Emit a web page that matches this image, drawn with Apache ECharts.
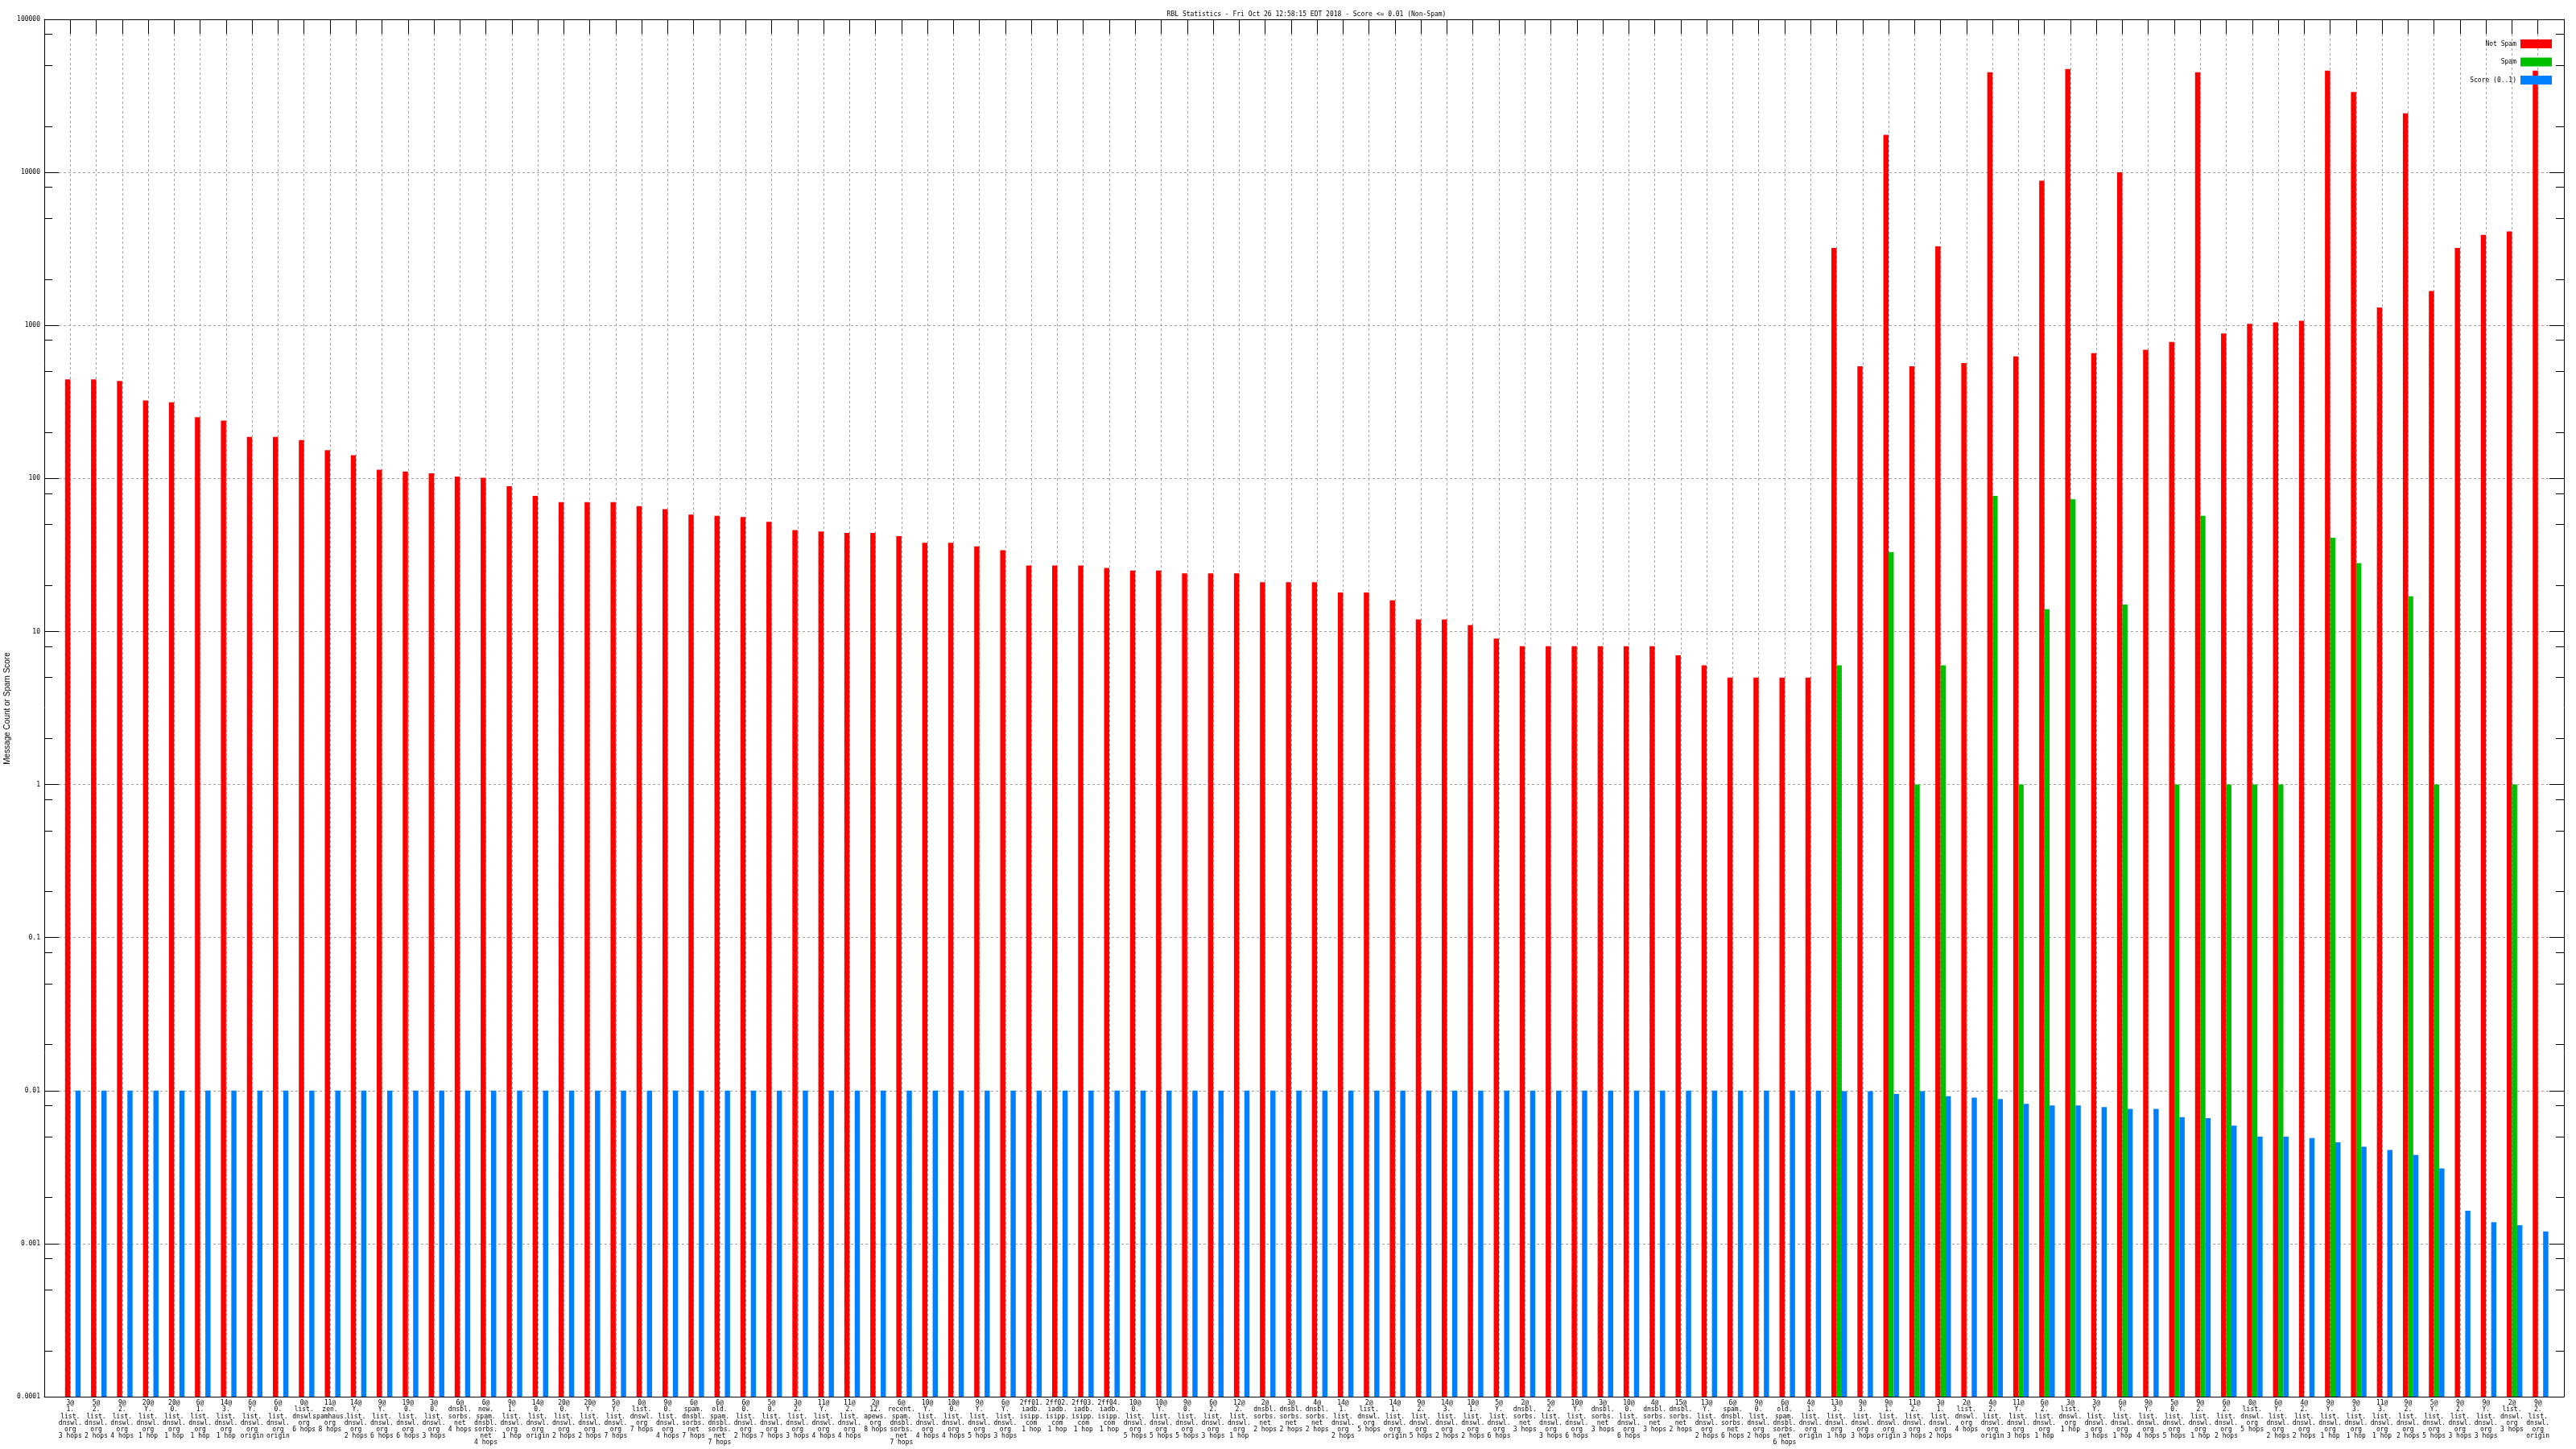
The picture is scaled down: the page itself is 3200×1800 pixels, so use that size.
<!DOCTYPE html>
<html><head><meta charset="utf-8">
<script src="https://cdn.jsdelivr.net/npm/echarts@6/dist/echarts.min.js"></script>
<style>html,body{margin:0;padding:0;background:#fff}#c{width:3200px;height:1800px}</style>
</head><body><div id="c"></div>
<script>
const categories = [
"3@\n1.\nlist.\ndnswl.\norg\n3 hops","5@\n2.\nlist.\ndnswl.\norg\n2 hops","9@\n2.\nlist.\ndnswl.\norg\n4 hops",
"20@\nY.\nlist.\ndnswl.\norg\n1 hop","20@\n0.\nlist.\ndnswl.\norg\n1 hop","6@\n1.\nlist.\ndnswl.\norg\n1 hop",
"14@\n3.\nlist.\ndnswl.\norg\n1 hop","6@\nY.\nlist.\ndnswl.\norg\norigin","6@\n0.\nlist.\ndnswl.\norg\norigin",
"0@\nlist.\ndnswl.\norg\n6 hops","11@\nzen.\nspamhaus.\norg\n8 hops","14@\nY.\nlist.\ndnswl.\norg\n2 hops",
"9@\nY.\nlist.\ndnswl.\norg\n6 hops","19@\n0.\nlist.\ndnswl.\norg\n6 hops","3@\n0.\nlist.\ndnswl.\norg\n3 hops",
"6@\ndnsbl.\nsorbs.\nnet\n4 hops","6@\nnew.\nspam.\ndnsbl.\nsorbs.\nnet\n4 hops","9@\n1.\nlist.\ndnswl.\norg\n1 hop",
"14@\n0.\nlist.\ndnswl.\norg\norigin","20@\n0.\nlist.\ndnswl.\norg\n2 hops","20@\nY.\nlist.\ndnswl.\norg\n2 hops",
"5@\nY.\nlist.\ndnswl.\norg\n7 hops","0@\nlist.\ndnswl.\norg\n7 hops","9@\n0.\nlist.\ndnswl.\norg\n4 hops",
"6@\nspam.\ndnsbl.\nsorbs.\nnet\n7 hops","6@\nold.\nspam.\ndnsbl.\nsorbs.\nnet\n7 hops","6@\n0.\nlist.\ndnswl.\norg\n2 hops",
"5@\n0.\nlist.\ndnswl.\norg\n7 hops","3@\n2.\nlist.\ndnswl.\norg\n3 hops","11@\nY.\nlist.\ndnswl.\norg\n4 hops",
"11@\n2.\nlist.\ndnswl.\norg\n4 hops","2@\n12.\napews.\norg\n8 hops","6@\nrecent.\nspam.\ndnsbl.\nsorbs.\nnet\n7 hops",
"10@\nY.\nlist.\ndnswl.\norg\n4 hops","10@\n0.\nlist.\ndnswl.\norg\n4 hops","9@\nY.\nlist.\ndnswl.\norg\n5 hops",
"6@\nY.\nlist.\ndnswl.\norg\n3 hops","2ff01.\niadb.\nisipp.\ncom\n1 hop","2ff02.\niadb.\nisipp.\ncom\n1 hop",
"2ff03.\niadb.\nisipp.\ncom\n1 hop","2ff04.\niadb.\nisipp.\ncom\n1 hop","10@\n0.\nlist.\ndnswl.\norg\n5 hops",
"10@\nY.\nlist.\ndnswl.\norg\n5 hops","9@\n0.\nlist.\ndnswl.\norg\n5 hops","6@\n2.\nlist.\ndnswl.\norg\n3 hops",
"12@\n2.\nlist.\ndnswl.\norg\n1 hop","2@\ndnsbl.\nsorbs.\nnet\n2 hops","3@\ndnsbl.\nsorbs.\nnet\n2 hops",
"4@\ndnsbl.\nsorbs.\nnet\n2 hops","14@\n1.\nlist.\ndnswl.\norg\n2 hops","2@\nlist.\ndnswl.\norg\n5 hops",
"14@\n1.\nlist.\ndnswl.\norg\norigin","9@\n2.\nlist.\ndnswl.\norg\n5 hops","14@\n3.\nlist.\ndnswl.\norg\n2 hops",
"10@\n1.\nlist.\ndnswl.\norg\n2 hops","5@\nY.\nlist.\ndnswl.\norg\n6 hops","2@\ndnsbl.\nsorbs.\nnet\n3 hops",
"5@\n2.\nlist.\ndnswl.\norg\n3 hops","10@\nY.\nlist.\ndnswl.\norg\n6 hops","3@\ndnsbl.\nsorbs.\nnet\n3 hops",
"10@\n0.\nlist.\ndnswl.\norg\n6 hops","4@\ndnsbl.\nsorbs.\nnet\n3 hops","15@\ndnsbl.\nsorbs.\nnet\n2 hops",
"13@\nY.\nlist.\ndnswl.\norg\n2 hops","6@\nspam.\ndnsbl.\nsorbs.\nnet\n6 hops","9@\n0.\nlist.\ndnswl.\norg\n2 hops",
"6@\nold.\nspam.\ndnsbl.\nsorbs.\nnet\n6 hops","4@\n1.\nlist.\ndnswl.\norg\norigin","13@\n3.\nlist.\ndnswl.\norg\n1 hop",
"9@\n3.\nlist.\ndnswl.\norg\n3 hops","9@\n1.\nlist.\ndnswl.\norg\norigin","11@\n2.\nlist.\ndnswl.\norg\n3 hops",
"3@\n1.\nlist.\ndnswl.\norg\n2 hops","2@\nlist.\ndnswl.\norg\n4 hops","4@\n2.\nlist.\ndnswl.\norg\norigin",
"11@\nY.\nlist.\ndnswl.\norg\n3 hops","6@\n2.\nlist.\ndnswl.\norg\n1 hop","3@\nlist.\ndnswl.\norg\n1 hop",
"3@\nY.\nlist.\ndnswl.\norg\n3 hops","6@\nY.\nlist.\ndnswl.\norg\n1 hop","9@\nY.\nlist.\ndnswl.\norg\n4 hops",
"5@\n0.\nlist.\ndnswl.\norg\n5 hops","9@\n2.\nlist.\ndnswl.\norg\n1 hop","6@\n2.\nlist.\ndnswl.\norg\n2 hops",
"0@\nlist.\ndnswl.\norg\n5 hops","6@\nY.\nlist.\ndnswl.\norg\n2 hops","4@\n2.\nlist.\ndnswl.\norg\n2 hops",
"9@\nY.\nlist.\ndnswl.\norg\n1 hop","9@\n3.\nlist.\ndnswl.\norg\n1 hop","11@\n3.\nlist.\ndnswl.\norg\n1 hop",
"9@\n2.\nlist.\ndnswl.\norg\n2 hops","5@\nY.\nlist.\ndnswl.\norg\n5 hops","9@\n2.\nlist.\ndnswl.\norg\n3 hops",
"9@\nY.\nlist.\ndnswl.\norg\n3 hops","2@\nlist.\ndnswl.\norg\n3 hops","9@\n2.\nlist.\ndnswl.\norg\norigin"
];

const notSpam = [
444,444,434,323,314,251,239,187,187,178,153,142,114,111,108,103,101,89,77,70,
70,70,66,63,58,57,56,52,46,45,44,44,42,38,38,36,34,27,27,27,
26,25,25,24,24,24,21,21,21,18,18,16,12,12,11,9,8,8,8,8,
8,8,7,6,5,5,5,5,3206,541,17600,541,3290,567,45100,627,8830,47400,658,10000,
692,781,45100,885,1023,1047,1072,46200,33500,1309,24300,1676,3206,3910,4110,46200
];

const spam = [
null,null,null,null,null,null,null,null,null,null,null,null,null,null,null,null,null,null,null,null,
null,null,null,null,null,null,null,null,null,null,null,null,null,null,null,null,null,null,null,null,
null,null,null,null,null,null,null,null,null,null,null,null,null,null,null,null,null,null,null,null,
null,null,null,null,null,null,null,null,6,null,33,1,6,null,77,1,14,73,null,15,
null,1,57,1,1,1,null,41,28,null,17,1,null,null,1,null
];

const score = [
0.01,0.01,0.01,0.01,0.01,0.01,0.01,0.01,0.01,0.01,0.01,0.01,0.01,0.01,0.01,0.01,0.01,0.01,0.01,0.01,
0.01,0.01,0.01,0.01,0.01,0.01,0.01,0.01,0.01,0.01,0.01,0.01,0.01,0.01,0.01,0.01,0.01,0.01,0.01,0.01,
0.01,0.01,0.01,0.01,0.01,0.01,0.01,0.01,0.01,0.01,0.01,0.01,0.01,0.01,0.01,0.01,0.01,0.01,0.01,0.01,
0.01,0.01,0.01,0.01,0.01,0.01,0.01,0.01,0.0099,0.0099,0.0095,0.0099,0.0092,0.0090,0.0088,0.0082,0.0080,0.0080,0.0078,0.0076,
0.0076,0.0067,0.0066,0.0059,0.0050,0.0050,0.0049,0.0046,0.0043,0.0041,0.0038,0.0031,0.00164,0.00138,0.00132,0.0012
];

const yTickLabels = ['0.0001','0.001','0.01','0.1','1','10','100','1000','10000','100000'];
const seriesNames = ['Not Spam','Spam','Score (0..1)'];
const colors = ['#ff0000','#00c000','#0080ff'];

const FONT = 'DejaVu Sans Mono';
const Y_MIN = 0.0001, Y_MAX = 100000;
const BOX = 0.2;               // width of one box, in category units
const offsets = [-BOX, 0, BOX]; // slot of each series inside a cluster

const minorVals = [];
for (let e = -4; e <= 4; e++) { [2,5,8].forEach(m => minorVals.push(m * Math.pow(10, e))); }
const majorVals = [];
for (let e = -4; e <= 5; e++) majorVals.push(Math.pow(10, e));

function yLabel(v) {
  const e = Math.round(Math.log10(v));
  return yTickLabels[e + 4] || '';
}

const gridLine = { show: true, lineStyle: { color: '#a0a0a0', width: 1, type: [3, 3] } };

function makeRender(k) {
  return function (params, api) {
    const v = api.value(1);
    if (!(v > 0)) return null;
    const x = api.value(0) + offsets[k];
    const top = api.coord([x, v]);
    const base = api.coord([x, Y_MIN]);
    const l = api.coord([x - BOX / 2, v])[0];
    const r = api.coord([x + BOX / 2, v])[0];
    return { type: 'rect', shape: { x: l, y: top[1], width: r - l, height: base[1] - top[1] },
      style: { fill: colors[k] } };
  };
}

const chart = echarts.init(document.getElementById('c'), null, { renderer: 'canvas' });
chart.setOption({
  animation: false,
  backgroundColor: '#ffffff',
  title: {
    text: 'RBL Statistics - Fri Oct 26 12:58:15 EDT 2018 - Score <= 0.01 (Non-Spam)',
    left: 1618, top: 9, textAlign: 'center',
    textStyle: { fontFamily: FONT, fontSize: 8, fontWeight: 'normal', color: '#000' }
  },
  legend: {
    data: seriesNames, orient: 'vertical', right: 25, top: 44, align: 'right',
    itemWidth: 39, itemHeight: 11, itemGap: 11.5, icon: 'rect', selectedMode: false,
    textStyle: { fontFamily: FONT, fontSize: 8, color: '#000' }
  },
  graphic: [{
    type: 'text', x: 9, y: 880, rotation: Math.PI / 2,
    style: { text: 'Message Count or Spam Score', align: 'center', verticalAlign: 'middle',
      font: '10px "Liberation Sans"', fill: '#000' }
  }],
  grid: { left: 55, right: 15, top: 24, bottom: 65, containLabel: false },
  xAxis: [
    { type: 'value', min: -1.1, max: 95.9, show: false },
    { type: 'value', position: 'bottom', min: -1, max: 96, interval: 1,
      axisLine: { show: true, onZero: false, lineStyle: { color: '#000', width: 1 } },
      axisTick: { show: false },
      splitLine: gridLine,
      axisLabel: { show: true, interval: 0, margin: 4, fontFamily: FONT, fontSize: 8, lineHeight: 8.2,
        color: '#000', verticalAlign: 'top', showMinLabel: true, showMaxLabel: true,
        formatter: v => { const i = Math.round(v); return (i >= 0 && i < categories.length) ? categories[i] : ''; } } },
    { type: 'value', position: 'top', min: -1, max: 96, interval: 1,
      axisLine: { show: true, onZero: false, lineStyle: { color: '#000', width: 1 } },
      axisTick: { show: true, inside: true, length: 18, lineStyle: { color: '#000', width: 1 } },
      axisLabel: { show: false }, splitLine: { show: false } }
  ],
  yAxis: [
    { type: 'log', logBase: 10, min: Y_MIN, max: Y_MAX, position: 'left',
      axisLine: { show: true, onZero: false, lineStyle: { color: '#000', width: 1 } },
      axisTick: { show: true, inside: true, length: 18, customValues: majorVals, lineStyle: { color: '#000', width: 1 } },
      axisLabel: { show: true, margin: 5, fontFamily: FONT, fontSize: 8, color: '#000', customValues: majorVals, formatter: yLabel },
      splitLine: gridLine, splitNumber: 9 },
    { type: 'log', logBase: 10, min: Y_MIN, max: Y_MAX, position: 'left',
      axisLine: { show: false, onZero: false },
      axisTick: { show: true, inside: true, length: 10, customValues: minorVals, lineStyle: { color: '#000', width: 1 } },
      axisLabel: { show: false }, splitLine: { show: false } },
    { type: 'log', logBase: 10, min: Y_MIN, max: Y_MAX, position: 'right',
      axisLine: { show: true, onZero: false, lineStyle: { color: '#000', width: 1 } },
      axisTick: { show: true, inside: true, length: 18, customValues: majorVals, lineStyle: { color: '#000', width: 1 } },
      axisLabel: { show: false }, splitLine: { show: false } },
    { type: 'log', logBase: 10, min: Y_MIN, max: Y_MAX, position: 'right',
      axisLine: { show: false, onZero: false },
      axisTick: { show: true, inside: true, length: 10, customValues: minorVals, lineStyle: { color: '#000', width: 1 } },
      axisLabel: { show: false }, splitLine: { show: false } }
  ],
  series: [notSpam, spam, score].map((arr, k) => ({
    name: seriesNames[k], type: 'custom', xAxisIndex: 0, yAxisIndex: 0,
    renderItem: makeRender(k),
    itemStyle: { color: colors[k] },
    encode: { x: 0, y: 1 },
    data: arr.map((v, i) => [i, v == null ? '-' : v])
  }))
});
</script></body></html>
